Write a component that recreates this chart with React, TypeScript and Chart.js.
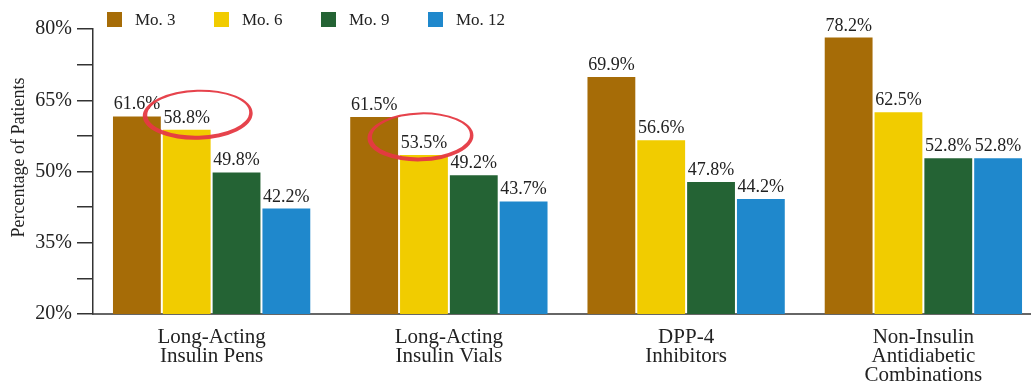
import React, { useEffect, useRef } from "react";
import { Chart, registerables } from "chart.js";

Chart.register(...registerables);

// Chart data
const categories: string[][] = [
  ["Long-Acting", "Insulin Pens"],
  ["Long-Acting", "Insulin Vials"],
  ["DPP-4", "Inhibitors"],
  ["Non-Insulin", "Antidiabetic", "Combinations"],
];
const seriesNames = ["Mo. 3", "Mo. 6", "Mo. 9", "Mo. 12"];
const mo3 = [61.6, 61.5, 69.9, 78.2];
const mo6 = [58.8, 53.5, 56.6, 62.5];
const mo9 = [49.8, 49.2, 47.8, 52.8];
const mo12 = [42.2, 43.7, 44.2, 52.8];
const seriesColors = ["#A66C07", "#F1CC00", "#246334", "#1F88CC"];
const yMin = 20;
const yMax = 80;
const yStep = 7.5;
const yLabelStep = 15;
const yTitle = "Percentage of Patients";

// Highlighted labels: [category index, series index]
const highlights: [number, number][] = [
  [0, 1],
  [1, 1],
];
// Per-highlight ellipse placement relative to the bar top
const highlightShape = [
  { dx: 11, dy: -15, rx: 55, ry: 25 },
  { dx: -3.5, dy: -18, rx: 53, ry: 24.5 },
];

const FONT = "'Liberation Serif', 'Times New Roman', serif";
const TEXT = "#222222";

const valueLabels = {
  id: "valueLabels",
  afterDatasetsDraw(chart: any) {
    const ctx = chart.ctx;
    ctx.save();
    ctx.font = `18px ${FONT}`;
    ctx.fillStyle = TEXT;
    ctx.textAlign = "center";
    ctx.textBaseline = "alphabetic";
    chart.data.datasets.forEach((ds: any, di: number) => {
      const meta = chart.getDatasetMeta(di);
      meta.data.forEach((bar: any, i: number) => {
        ctx.fillText(`${ds.data[i].toFixed(1)}%`, bar.x, bar.y - 7);
      });
    });
    ctx.restore();
  },
};

const highlightRings = {
  id: "highlightRings",
  afterDraw(chart: any) {
    const ctx = chart.ctx;
    ctx.save();
    ctx.fillStyle = "rgba(229, 57, 66, 0.95)";
    highlights.forEach(([ci, si], k) => {
      const bar = chart.getDatasetMeta(si).data[ci];
      const s = highlightShape[k];
      const cx = bar.x + s.dx;
      const cy = bar.y + s.dy;
      ctx.beginPath();
      ctx.ellipse(cx, cy, s.rx, s.ry, -0.03, 0, Math.PI * 2);
      ctx.ellipse(cx + 0.5, cy - 1, s.rx - 4, s.ry - 3, -0.03, Math.PI * 2, 0, true);
      ctx.fill("evenodd");
    });
    ctx.restore();
  },
};

const legendAndTitle = {
  id: "legendAndTitle",
  afterDraw(chart: any) {
    const ctx = chart.ctx;
    const area = chart.chartArea;
    ctx.save();
    // legend row
    ctx.font = `17px ${FONT}`;
    ctx.textBaseline = "alphabetic";
    ctx.textAlign = "left";
    seriesNames.forEach((name, i) => {
      const x = 107 + i * 107;
      ctx.fillStyle = seriesColors[i];
      ctx.fillRect(x, 12, 15, 15);
      ctx.fillStyle = TEXT;
      ctx.fillText(name, x + 28, 25);
    });
    // y-axis title
    ctx.font = `18px ${FONT}`;
    ctx.fillStyle = TEXT;
    ctx.textAlign = "center";
    ctx.textBaseline = "middle";
    ctx.translate(19, (area.top + area.bottom) / 2 - 14);
    ctx.rotate(-Math.PI / 2);
    ctx.fillText(yTitle, 0, 0);
    ctx.restore();
  },
};

export default function App() {
  const ref = useRef<HTMLCanvasElement>(null);

  useEffect(() => {
    if (!ref.current) return;
    const chart = new Chart(ref.current, {
      type: "bar",
      data: {
        labels: categories,
        datasets: [mo3, mo6, mo9, mo12].map((d, i) => ({
          label: seriesNames[i],
          data: d,
          backgroundColor: seriesColors[i],
          borderWidth: 0,
          categoryPercentage: 0.84,
          barPercentage: 0.96,
        })),
      },
      options: {
        animation: false,
        responsive: false,
        layout: { padding: { top: 29, right: 1, left: 0, bottom: 0 } },
        plugins: {
          legend: { display: false },
          tooltip: { enabled: false },
        },
        scales: {
          x: {
            grid: { display: false },
            border: { display: true, color: "#666666", width: 2 },
            ticks: {
              color: TEXT,
              font: { family: FONT, size: 21, lineHeight: 0.9 },
              padding: 6,
              maxRotation: 0,
              autoSkip: false,
            },
            afterFit: (s: any) => {
              s.height = 73;
            },
          },
          y: {
            min: yMin,
            max: yMax,
            grid: {
              drawOnChartArea: false,
              drawTicks: true,
              tickLength: 16,
              color: "#333333",
              lineWidth: 1.5,
            },
            border: { display: true, color: "#333333", width: 1.5 },
            ticks: {
              stepSize: yStep,
              color: TEXT,
              font: { family: FONT, size: 20 },
              padding: 5,
              callback: (v: any) =>
                Math.abs((Number(v) - yMin) % yLabelStep) < 1e-6 ? `${v}%` : "",
            },
            afterFit: (s: any) => {
              s.width = 93;
            },
          },
        },
      },
      plugins: [valueLabels, highlightRings, legendAndTitle],
    });
    return () => chart.destroy();
  }, []);

  return (
    <div
      style={{
        position: "fixed",
        left: 0,
        top: 0,
        width: 1031,
        height: 387,
        overflow: "hidden",
        background: "#ffffff",
      }}
    >
      <canvas ref={ref} width={1043} height={387} style={{ display: "block" }} />
    </div>
  );
}
